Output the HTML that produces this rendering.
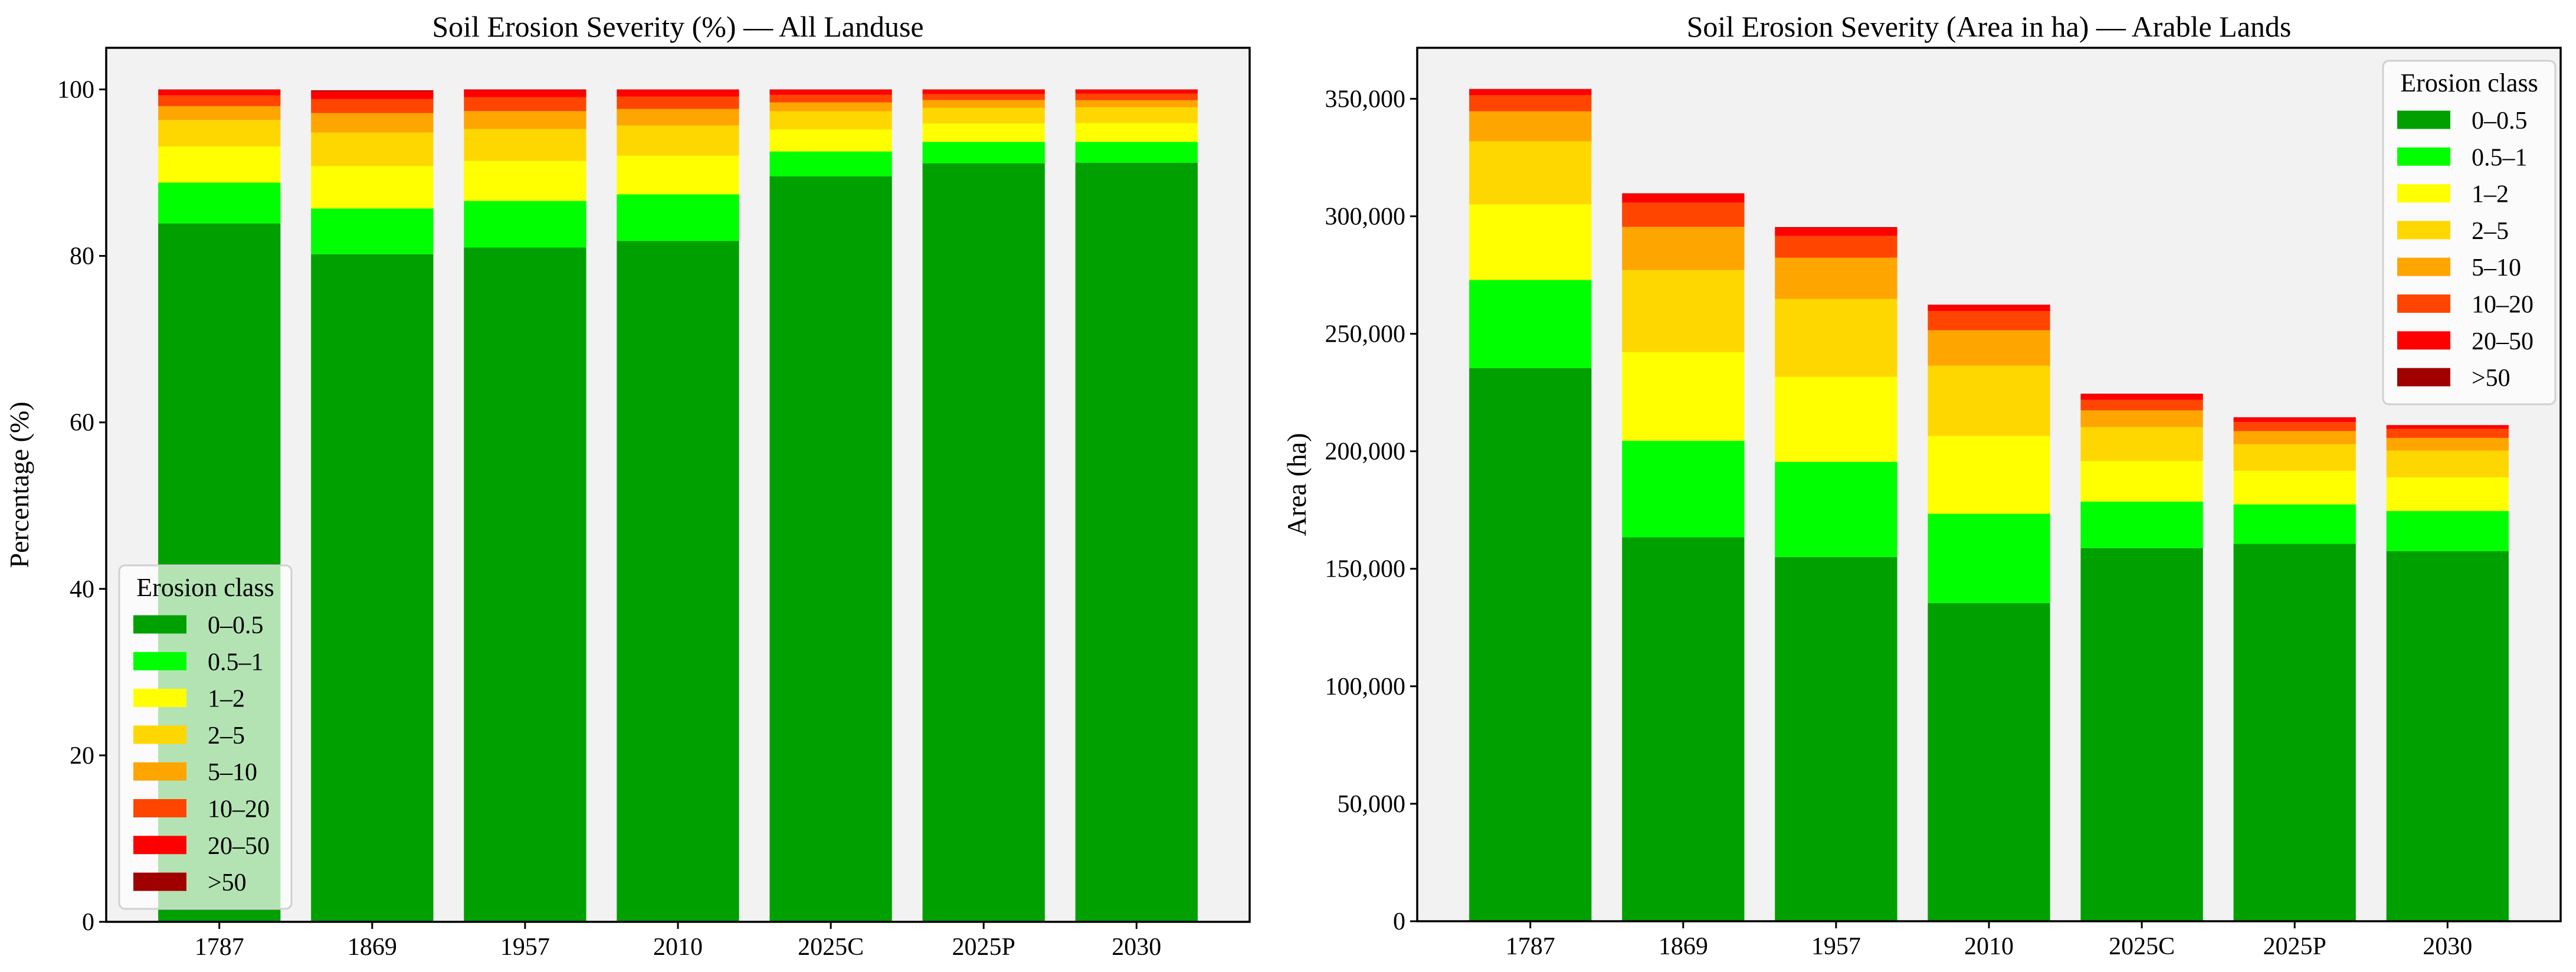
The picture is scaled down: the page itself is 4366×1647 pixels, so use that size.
<!DOCTYPE html>
<html><head><meta charset="utf-8"><style>
html,body{margin:0;padding:0;background:#fff;}
svg, svg text{font-family:"Liberation Serif","DejaVu Serif",serif;}
svg{display:block;}
</style></head><body>
<svg id="chart" xmlns="http://www.w3.org/2000/svg" width="4366" height="1647" viewBox="0 0 4366 1647" font-family="Liberation Serif, DejaVu Serif, serif"></svg>
<script>
const categories = ["1787","1869","1957","2010","2025C","2025P","2030"];
const classes = ["0–0.5","0.5–1","1–2","2–5","5–10","10–20","20–50",">50"];
const colors = ["#00a000","#00ff00","#ffff00","#ffd700","#ffa500","#ff4500","#ff0000","#a00000"];
// Left: percentages per class
const pct_0_05 = [83.9,80.2,81.0,81.8,89.57,91.13,91.2];
const pct_05_1 = [4.9,5.5,5.6,5.6,2.98,2.57,2.5];
const pct_1_2 = [4.35,5.08,4.8,4.65,2.63,2.2,2.26];
const pct_2_5 = [3.18,4.04,3.85,3.62,2.2,1.9,1.89];
const pct_5_10 = [1.66,2.34,2.15,1.99,1.06,0.92,0.85];
const pct_10_20 = [1.28,1.68,1.68,1.49,0.9,0.71,0.78];
const pct_20_50 = [0.68,0.94,0.85,0.8,0.62,0.53,0.48];
const pct_gt50 = [0.05,0.12,0.07,0.05,0.04,0.04,0.04];
// Right: area (ha)
const ha_0_05 = [235400,163400,155000,135400,158800,160600,157500];
const ha_05_1 = [37500,41100,40500,38000,19800,16800,17100];
const ha_1_2 = [32200,37700,36200,33100,17200,14300,14300];
const ha_2_5 = [26800,34900,33100,29900,14500,11300,11400];
const ha_5_10 = [12800,18400,17600,15100,7100,5600,5400];
const ha_10_20 = [6800,10300,9300,8100,4500,3800,3800];
const ha_20_50 = [2600,3800,3400,2700,2500,2000,1600];
const ha_gt50 = [100,200,300,100,100,100,50];
const leftTicks = [0,20,40,60,80,100];
const leftTickLabels = ["0","20","40","60","80","100"];
const rightTicks = [0,50000,100000,150000,200000,250000,300000,350000];
const rightTickLabels = ["0","50,000","100,000","150,000","200,000","250,000","300,000","350,000"];

const NS="http://www.w3.org/2000/svg";
const svg=document.getElementById('chart');
function mk(tag,attrs,parent){const e=document.createElementNS(NS,tag);for(const k in attrs)e.setAttribute(k,attrs[k]);(parent||svg).appendChild(e);return e;}

function drawPanel(cfg){
  const {x0,x1,y0,y1,series,ymax,ticks,tickLabels,title,ylabel,ylabelX,legend,prefix}=cfg;
  const g=mk('g',{});
  
  
  const bg=mk('rect',{x:x0,y:y1,width:x1-x0,height:y0-y1,fill:'#f2f2f2'},g);
  
  
  const xmin=-0.74,xmaxv=categories.length-1+0.74;
  const xs=v=>x0+(v-xmin)/(xmaxv-xmin)*(x1-x0);
  const ys=v=>y0-v/ymax*(y0-y1);
  categories.forEach((c,i)=>{
    let cum=0;
    series.forEach((s,k)=>{
      const v=s[i];
      const r=mk('rect',{x:xs(i-0.4),y:ys(cum+v),width:xs(i+0.4)-xs(i-0.4),height:ys(cum)-ys(cum+v),fill:colors[k]},g);
      
      
      cum+=v;
    });
    mk('line',{x1:xs(i),x2:xs(i),y1:y0,y2:y0+12,stroke:'#000','stroke-width':3},g);
    const lb=mk('text',{x:xs(i),y:y0+56,'font-size':42,'text-anchor':'middle'},g);
    lb.textContent=c;
    
    
  });
  ticks.forEach((v,i)=>{
    mk('line',{x1:x0-12,x2:x0,y1:ys(v),y2:ys(v),stroke:'#000','stroke-width':3},g);
    const lb=mk('text',{x:x0-20,y:ys(v)+14,'font-size':42,'text-anchor':'end'},g);
    lb.textContent=tickLabels[i];
    
    
  });
  mk('rect',{x:x0,y:y1,width:x1-x0,height:y0-y1,fill:'none',stroke:'#000','stroke-width':3.5},g);
  const tt=mk('text',{x:(x0+x1)/2,y:62,'font-size':50,'text-anchor':'middle'},g);
  tt.textContent=title;
  
  
  const yl=mk('text',{x:ylabelX,y:(y0+y1)/2,'font-size':46,'text-anchor':'middle',transform:`rotate(-90 ${ylabelX} ${(y0+y1)/2})`},g);
  yl.textContent=ylabel;
  
  
  const lg=mk('g',{},g);
  
  
  mk('rect',{x:legend.x,y:legend.y,width:292,height:582,rx:10,fill:'rgba(255,255,255,0.7)',stroke:'#d0d0d0','stroke-width':3},lg);
  const lt=mk('text',{x:legend.x+146,y:legend.y+52,'font-size':44,'text-anchor':'middle'},lg);
  lt.textContent='Erosion class';
  
  
  classes.forEach((cl,k)=>{
    const cy=legend.y+100+k*62.3;
    const e=mk('g',{},lg);
    
    
    mk('rect',{x:legend.x+24,y:cy-15.5,width:90,height:31,fill:colors[k]},e);
    const t=mk('text',{x:legend.x+150,y:cy+15,'font-size':42},e);
    t.textContent=cl;
  });
}

drawPanel({x0:180,x1:2118,y0:1562,y1:81,series:[pct_0_05,pct_05_1,pct_1_2,pct_2_5,pct_5_10,pct_10_20,pct_20_50,pct_gt50],ymax:105,ticks:leftTicks,tickLabels:leftTickLabels,title:'Soil Erosion Severity (%) — All Landuse',ylabel:'Percentage (%)',ylabelX:48,legend:{x:202,y:958},prefix:'left'});
drawPanel({x0:2402,x1:4340,y0:1561,y1:81,series:[ha_0_05,ha_05_1,ha_1_2,ha_2_5,ha_5_10,ha_10_20,ha_20_50,ha_gt50],ymax:371700,ticks:rightTicks,tickLabels:rightTickLabels,title:'Soil Erosion Severity (Area in ha) — Arable Lands',ylabel:'Area (ha)',ylabelX:2213,legend:{x:4039,y:103},prefix:'right'});
</script>
</body></html>
